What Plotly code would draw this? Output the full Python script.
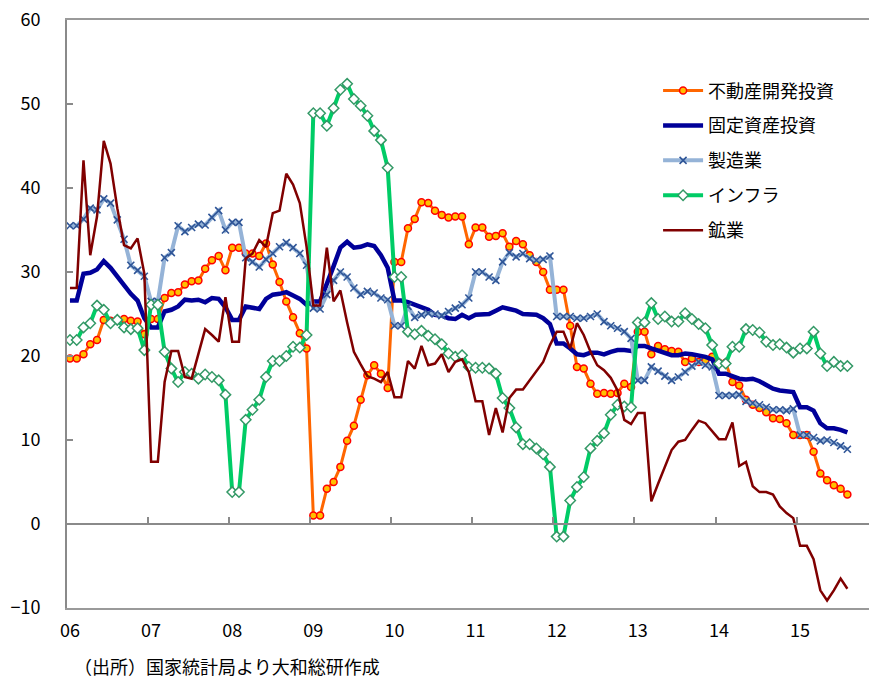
import plotly.graph_objects as go

# Monthly year-to-date growth (%), Jan 2006 - Aug 2015 (Jan shown equal to Jan-Feb)
real_estate = [
    19.7, 19.7, 20.2, 21.4, 21.9, 24.3, 24.2, 24.3, 24.4, 24.2, 24.1, 22.6,
    24.4, 24.4, 26.9, 27.5, 27.6, 28.5, 28.9, 29.0, 30.4, 31.4, 31.9, 30.2,
    32.9, 32.9, 32.2, 32.2, 31.9, 33.4, 30.9, 28.8, 26.5, 24.6, 22.7, 20.9,
    1.0, 1.0, 4.2, 5.0, 6.8, 9.9, 11.7, 14.8, 17.7, 18.9, 17.9, 16.2,
    31.2, 31.2, 35.2, 36.3, 38.3, 38.2, 37.3, 36.8, 36.5, 36.6, 36.6, 33.3,
    35.3, 35.3, 34.2, 34.3, 34.6, 33.0, 33.7, 33.3, 32.0, 31.2, 30.0, 27.9,
    27.9, 27.9, 23.6, 18.7, 18.5, 16.7, 15.5, 15.6, 15.5, 15.6, 16.7, 16.3,
    22.9, 22.9, 20.2, 21.2, 20.8, 20.6, 20.5, 19.3, 19.7, 19.3, 19.5, 19.9,
    19.2, 19.2, 16.9, 16.5, 14.8, 14.2, 13.8, 13.3, 12.6, 12.5, 12.0, 10.6,
    10.6, 10.6, 8.6, 6.0, 5.2, 4.6, 4.2, 3.5,
]
fixed_asset = [
    26.6, 26.6, 29.8, 29.9, 30.3, 31.3, 30.5, 29.4, 28.4, 27.4, 26.6, 24.5,
    23.4, 23.4, 25.3, 25.5, 25.9, 26.7, 26.6, 26.7, 26.4, 26.9, 26.8, 25.8,
    24.3, 24.3, 25.9, 25.7, 25.6, 26.8, 27.3, 27.4, 27.6, 27.2, 26.8, 26.1,
    26.5, 26.5, 28.8, 30.7, 32.9, 33.6, 32.9, 33.0, 33.3, 33.1, 32.0, 30.5,
    26.6, 26.6, 26.4, 26.1, 25.9, 25.5, 24.9, 24.8, 24.5, 24.4, 24.9, 24.5,
    24.9, 24.9, 25.0, 25.4, 25.8, 25.6, 25.4, 25.0, 24.9, 24.9, 24.5, 23.8,
    21.5, 21.5, 20.9, 20.2, 20.1, 20.4, 20.4, 20.2, 20.5, 20.7, 20.7, 20.6,
    21.2, 21.2, 20.9, 20.6, 20.4, 20.1, 20.1, 20.3, 20.2, 20.1, 19.9, 19.6,
    17.9, 17.9, 17.6, 17.3, 17.2, 17.3, 17.0, 16.5, 16.1, 15.9, 15.8, 15.7,
    13.9, 13.9, 13.5, 12.0, 11.4, 11.4, 11.2, 10.9,
]
manufacturing = [
    35.5, 35.5, 36.3, 37.6, 37.4, 38.7, 38.2, 36.2, 33.9, 30.8, 30.2, 29.5,
    26.5, 26.5, 31.7, 32.3, 35.5, 34.8, 35.3, 35.7, 35.6, 36.5, 37.3, 35.0,
    35.9, 35.9, 31.7, 31.2, 30.6, 31.5, 32.2, 33.0, 33.5, 32.9, 32.2, 30.8,
    25.7, 25.6, 27.3, 29.0, 30.0, 29.4, 28.1, 27.3, 27.7, 27.5, 26.9, 26.7,
    23.6, 23.6, 25.9, 24.6, 24.9, 25.1, 25.0, 24.8, 25.3, 25.7, 26.1, 26.9,
    30.0, 30.0, 29.4, 29.0, 31.2, 32.3, 31.8, 32.2, 31.6, 31.4, 31.5, 31.9,
    24.7, 24.7, 24.7, 24.5, 24.5, 24.7, 25.0, 24.1, 23.6, 23.3, 22.9, 22.1,
    17.1, 17.1, 18.7, 18.2, 17.6, 17.1, 17.5, 18.1, 18.8, 19.3, 18.9, 18.7,
    15.3, 15.3, 15.3, 15.4, 14.6, 14.4, 14.2, 13.9, 13.6, 13.6, 13.5, 13.7,
    10.6, 10.6, 10.3, 9.9, 10.0, 9.7, 9.3, 8.9,
]
infrastructure = [
    21.9, 21.9, 23.4, 23.9, 26.0, 25.5, 23.9, 24.3, 23.4, 23.2, 23.3, 20.7,
    26.1, 26.1, 20.5, 18.5, 16.9, 18.1, 17.9, 17.3, 17.8, 17.5, 17.1, 15.4,
    3.8, 3.8, 12.4, 13.6, 14.8, 17.5, 19.4, 19.4, 20.0, 21.1, 21.0, 22.5,
    48.9, 48.9, 47.4, 49.5, 51.7, 52.4, 50.6, 49.8, 48.6, 46.8, 45.7, 42.4,
    29.4, 29.4, 22.9, 22.6, 23.0, 22.4, 22.0, 21.4, 20.3, 19.9, 20.1, 18.7,
    18.6, 18.6, 18.5, 17.9, 15.0, 13.8, 11.5, 9.5, 9.5, 9.0, 8.3, 6.8,
    -1.5, -1.5, 2.8, 4.4, 5.6, 9.0, 9.9, 10.8, 13.0, 14.2, 14.0, 13.9,
    24.0, 24.0, 26.3, 24.4, 24.7, 24.1, 24.1, 25.1, 24.4, 23.8, 23.3, 21.3,
    19.1, 19.1, 21.1, 21.1, 23.2, 23.1, 22.8, 21.7, 21.3, 21.4, 21.0, 20.4,
    20.9, 20.9, 22.9, 20.3, 18.8, 19.3, 18.8, 18.8,
]
mining = [
    28.1, 28.1, 43.3, 32.0, 36.6, 45.6, 42.9, 37.6, 33.2, 32.8, 34.0, 29.8,
    7.4, 7.4, 16.9, 20.6, 20.6, 17.5, 17.3, 20.3, 23.2, 22.5, 21.7, 27.0,
    21.7, 21.7, 31.6, 32.2, 33.8, 33.0, 37.0, 37.3, 41.7, 40.4, 38.2, 33.0,
    26.0, 26.0, 32.9, 26.5, 27.8, 24.0, 20.5, 19.0, 17.6, 17.3, 16.9, 18.1,
    15.1, 15.1, 19.4, 18.5, 21.2, 18.9, 19.1, 20.2, 18.1, 19.3, 19.6, 18.1,
    14.6, 14.6, 10.6, 13.8, 10.9, 15.0, 16.0, 16.0, 17.1, 18.3, 19.3, 21.3,
    22.9, 22.9, 20.9, 23.9, 22.5, 20.5, 18.9, 18.3, 17.4, 15.9, 12.4, 11.9,
    13.2, 13.2, 2.7, 4.8, 6.7, 8.8, 9.8, 10.0, 11.2, 12.3, 12.0, 11.0,
    10.1, 10.1, 12.1, 6.9, 7.4, 4.5, 3.8, 3.8, 3.5, 2.1, 1.3, 0.7,
    -2.6, -2.6, -4.2, -7.9, -9.1, -7.9, -6.5, -7.7,
]
year_labels = ["06", "07", "08", "09", "10", "11", "12", "13", "14", "15"]
series_names = ["不動産開発投資", "固定資産投資", "製造業", "インフラ", "鉱業"]
source_note = "（出所）国家統計局より大和総研作成"

months = list(range(len(fixed_asset)))
FONT = "Noto Sans CJK JP, Noto Sans, sans-serif"
AXIS_GRAY = "#8a8a8a"

fig = go.Figure()
fig.add_trace(go.Scatter(
    x=months, y=real_estate, name=series_names[0], mode="lines+markers",
    legendgroup="a",
    line=dict(color="#FF6600", width=3),
    marker=dict(symbol="circle", size=7, color="#FFC000",
                line=dict(color="#FF0000", width=1.5)),
))
fig.add_trace(go.Scatter(
    x=months, y=fixed_asset, name=series_names[1], mode="lines",
    legendgroup="b",
    line=dict(color="#000099", width=4.5),
))
fig.add_trace(go.Scatter(
    x=months, y=manufacturing, name=series_names[2], mode="lines+markers",
    legendgroup="c",
    line=dict(color="#95B3D7", width=4),
    marker=dict(symbol="x-thin-open", size=7, color="#2F5597",
                line=dict(color="#2F5597", width=1.6)),
))
fig.add_trace(go.Scatter(
    x=months, y=infrastructure, name=series_names[3], mode="lines+markers",
    legendgroup="d",
    line=dict(color="#00CC66", width=4),
    marker=dict(symbol="diamond", size=8, color="#FFFFFF",
                line=dict(color="#339966", width=1.5)),
))
fig.add_trace(go.Scatter(
    x=months, y=mining, name=series_names[4], mode="lines",
    legendgroup="e",
    line=dict(color="#800000", width=2.5),
))
# helper trace that carries the zero-line axis (year-boundary ticks)
fig.add_trace(go.Scatter(
    x=[0], y=[0], xaxis="x2", mode="markers", marker=dict(opacity=0),
    showlegend=False, hoverinfo="skip",
))

xr = [-0.44, 118.2]
fig.update_layout(
    width=869, height=679,
    margin=dict(l=67, r=0, t=20, b=71, autoexpand=False),
    paper_bgcolor="white", plot_bgcolor="white",
    font=dict(family=FONT, size=18, color="black"),
    showlegend=True,
    legend=dict(
        x=0.737, y=0.911, xanchor="left", yanchor="top",
        font=dict(family=FONT, size=18, color="black"),
        bgcolor="rgba(0,0,0,0)", itemwidth=40, tracegroupgap=8.5,
    ),
    xaxis=dict(
        range=xr, showgrid=False, zeroline=False, automargin=False,
        showline=True, mirror=True, linecolor="#9a9a9a", linewidth=1.5,
        ticks="", tickmode="array",
        tickvals=[12 * k for k in range(len(year_labels))],
        ticktext=year_labels,
        tickfont=dict(family=FONT, size=18, color="black"),
        ticklabelstandoff=6,
    ),
    xaxis2=dict(
        range=xr, overlaying="x", anchor="free", position=10 / 70,
        side="bottom", showgrid=False, zeroline=False, automargin=False,
        showline=True, linecolor=AXIS_GRAY, linewidth=2,
        ticks="inside", ticklen=6, tickwidth=1.5, tickcolor=AXIS_GRAY,
        tickmode="array",
        tickvals=[12 * k - 0.5 for k in range(1, len(year_labels))],
        showticklabels=False,
    ),
    yaxis=dict(
        range=[-10, 60], showgrid=False, zeroline=False, automargin=False,
        showline=True, linecolor=AXIS_GRAY, linewidth=2,
        ticks="inside", ticklen=6, tickwidth=1.5, tickcolor=AXIS_GRAY,
        tickmode="array", tickvals=list(range(-10, 61, 10)),
        tickfont=dict(family=FONT, size=18, color="black"),
        ticklabelstandoff=21,
    ),
    annotations=[dict(
        text=source_note, xref="paper", yref="paper",
        x=0.008, y=-0.0986, xanchor="left", yanchor="middle",
        borderpad=0,
        showarrow=False, font=dict(family=FONT, size=18, color="black"),
    )],
)

fig.write_html(
    "out.html",
    config={"displayModeBar": False},
    post_script="document.body.style.margin='0';document.body.style.overflow='hidden';",
)
